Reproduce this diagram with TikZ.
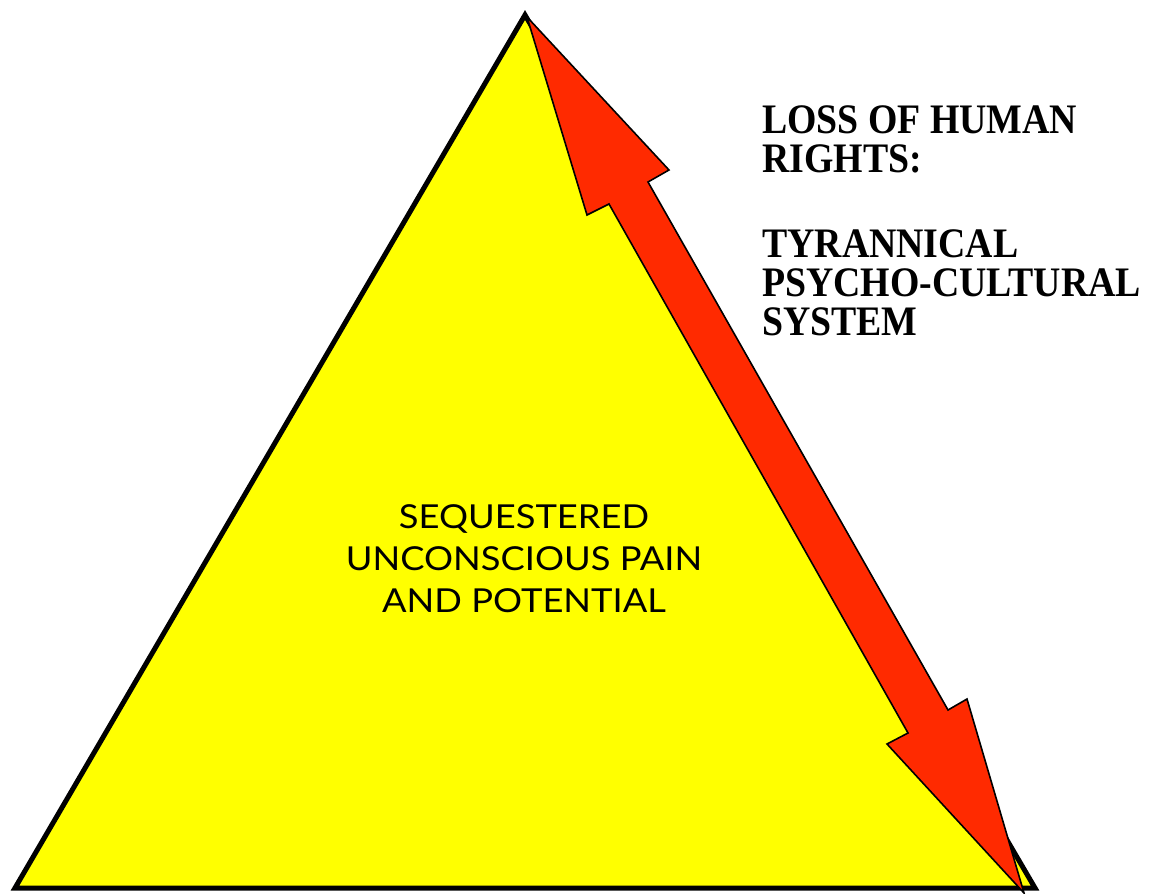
\documentclass[tikz,border=0pt]{standalone}
\usepackage{fontspec}
\setmainfont{Liberation Serif}
\newfontfamily\sidefont[FakeStretch=0.9]{Liberation Serif}
\newfontfamily\centerfont[FakeStretch=1.1]{Lato}
\definecolor{pyryellow}{RGB}{255,255,0}
\definecolor{arrowred}{RGB}{255,42,0}
\begin{document}
\begin{tikzpicture}[x=1pt,y=-1pt,
  pyramid/.style={fill=pyryellow,draw=black,line width=5pt,line join=miter},
  bigarrow/.style={fill=arrowred,draw=black,line width=1.6pt,line join=miter},
  sidelabel/.style={inner sep=0pt,align=left,font=\sidefont\fontsize{42}{39}\selectfont\bfseries},
  centrelabel/.style={inner sep=0pt,align=center,font=\centerfont\fontsize{33}{42}\selectfont}]
\useasboundingbox (0,0) rectangle (1151,894);
% triangle corners
\coordinate (apex) at (525,15);
\coordinate (bl) at (15,888);
\coordinate (br) at (1035,888);
\draw[pyramid] (apex) -- (br) -- (bl) -- cycle;
% double arrow
\coordinate (ttip) at (527,17);
\coordinate (trb) at (669,170);
\coordinate (trn) at (648,182);
\coordinate (brn) at (948,710);
\coordinate (brb) at (967,699);
\coordinate (btip) at (1024,893);
\coordinate (blb) at (887,744);
\coordinate (bln) at (908,733);
\coordinate (tln) at (609,204);
\coordinate (tlb) at (587,215);
\draw[bigarrow] (ttip) -- (trb) -- (trn) -- (brn) -- (brb) -- (btip) -- (blb) -- (bln) -- (tln) -- (tlb) -- cycle;
% labels
\node[sidelabel,anchor=base west] (side) at (762,335) {LOSS OF HUMAN\\RIGHTS:\\[46pt]TYRANNICAL\\PSYCHO-CULTURAL\\SYSTEM};
\node[centrelabel,anchor=base] (centre) at (524,612) {SEQUESTERED\\UNCONSCIOUS PAIN\\AND POTENTIAL};
\end{tikzpicture}
\end{document}
